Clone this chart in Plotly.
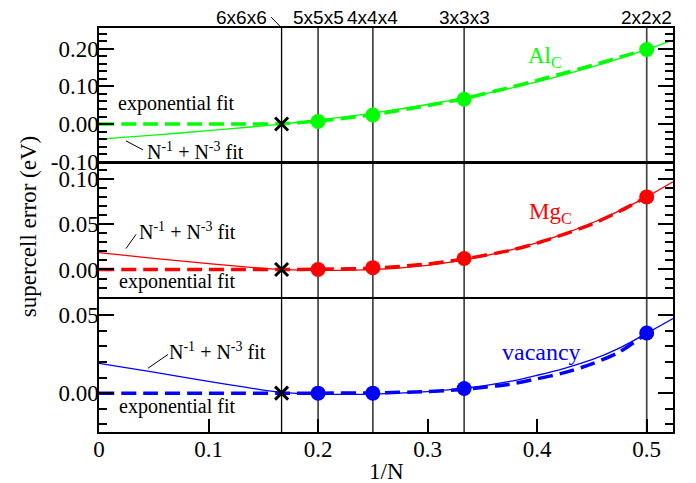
import plotly.graph_objects as go

# ---------------- data ----------------
x_pts = [0.2, 0.25, 1/3, 0.5]
al_pts = [0.007, 0.024, 0.066, 0.198]
mg_pts = [0.000, 0.002, 0.012, 0.080]
vac_pts = [0.000, 0.000, 0.003, 0.0387]
x_ref = [1/6]
y_ref = [0.0]

x_fit = [0, 0.05, 0.1, 0.1333, 0.1667, 0.2, 0.25, 0.3, 0.3333, 0.375, 0.4, 0.425, 0.45, 0.475, 0.5, 0.524]
al_fit = [-0.040, -0.0293, -0.0175, -0.0092, 0.000, 0.0106, 0.0292, 0.0519, 0.0695, 0.0949, 0.1122, 0.131, 0.1515, 0.1738, 0.198, 0.223]
mg_fit = [0.0186, 0.0122, 0.0065, 0.0028, 0.000, -0.0010, -0.0002, 0.0046, 0.0105, 0.0212, 0.0296, 0.0396, 0.0512, 0.0646, 0.080, 0.0966]
vac_fit = [0.0192, 0.0135, 0.0075, 0.0038, 0.0005, -0.0006, -0.0006, 0.0010, 0.0030, 0.0075, 0.0115, 0.0160, 0.0215, 0.0290, 0.0385, 0.048]

x_exp = [0, 0.05, 0.1, 0.1333, 0.1667, 0.2, 0.25, 0.3, 0.3333, 0.375, 0.4, 0.425, 0.45, 0.475, 0.5]
al_exp = [0, 0, 0, 0, 0.001, 0.008, 0.025, 0.049, 0.068, 0.097, 0.116, 0.136, 0.156, 0.177, 0.198]
mg_exp = [0, 0, 0, 0, 0, 0.0002, 0.0015, 0.006, 0.0115, 0.021, 0.029, 0.039, 0.050, 0.064, 0.080]
vac_exp = [0, 0, 0, 0, 0, 0, 0.0002, 0.001, 0.0025, 0.0058, 0.0092, 0.0132, 0.0188, 0.0265, 0.0385]

cell_x = [1/6, 0.2, 0.25, 1/3, 0.5]
cell_labels = ["6x6x6", "5x5x5", "4x4x4", "3x3x3", "2x2x2"]

y1_ticks = [-0.10, 0.00, 0.10, 0.20]
y1_text = ["-0.10", "0.00", "0.10", "0.20"]
y2_ticks = [0.00, 0.05, 0.10]
y2_text = ["0.00", "0.05", "0.10"]
y3_ticks = [0.00, 0.05]
y3_text = ["0.00", "0.05"]

GREEN, RED, BLUE = "#00ff00", "#ff0000", "#0000ff"
SERIF = "Liberation Serif"
SANS = "Liberation Sans"

fig = go.Figure()

panels = [
    ("x", "y", al_fit, al_exp, al_pts, GREEN),
    ("x2", "y2", mg_fit, mg_exp, mg_pts, RED),
    ("x3", "y3", vac_fit, vac_exp, vac_pts, BLUE),
]
for xa, ya, fit, ex, pts, col in panels:
    fig.add_trace(go.Scatter(x=x_fit, y=fit, mode="lines", xaxis=xa, yaxis=ya,
                             line=dict(color=col, width=1.3, shape="spline", smoothing=0.8),
                             showlegend=False, hoverinfo="skip"))
    fig.add_trace(go.Scatter(x=x_exp, y=ex, mode="lines", xaxis=xa, yaxis=ya,
                             line=dict(color=col, width=3.5, dash="15px,7px", shape="spline", smoothing=0.8),
                             showlegend=False, hoverinfo="skip"))
    fig.add_trace(go.Scatter(x=x_pts, y=pts, mode="markers", xaxis=xa, yaxis=ya,
                             marker=dict(color=col, size=15, symbol="circle"),
                             showlegend=False))
    fig.add_trace(go.Scatter(x=x_ref, y=y_ref, mode="markers", xaxis=xa, yaxis=ya,
                             marker=dict(symbol="x-thin", size=13, color="black",
                                         line=dict(color="black", width=3)),
                             showlegend=False))

axcommon = dict(showline=True, linecolor="black", linewidth=1.5, mirror=True,
                showgrid=False, zeroline=False)
xcommon = dict(range=[0, 0.524], **axcommon)
ycommon = dict(ticks="inside", ticklen=15, tickwidth=1.5, tickcolor="black",
               tickfont=dict(family=SERIF, size=23, color="black"), ticklabelstandoff=-6,
               showline=True, linecolor="black", linewidth=1.5, mirror="ticks",
               showgrid=False, zeroline=False)

def minor(dt):
    return dict(ticks="inside", ticklen=8, tickwidth=1.5, tickcolor="black", dtick=dt, tick0=0)

# the page body adds an 8px offset; the figure size/margins compensate for it
fig.update_layout(
    width=688, height=475,
    margin=dict(l=91, r=23, t=20, b=51),
    paper_bgcolor="white", plot_bgcolor="white",
    xaxis=dict(anchor="y", matches="x3", showticklabels=False, ticks="", **xcommon),
    xaxis2=dict(anchor="y2", matches="x3", showticklabels=False, ticks="", **xcommon),
    xaxis3=dict(anchor="y3", ticks="inside", ticklen=13, tickwidth=1.5, tickcolor="black",
                tick0=0, dtick=0.1, ticklabelstandoff=-4,
                tickfont=dict(family=SERIF, size=23, color="black"), **xcommon),
    yaxis=dict(domain=[0.669, 1.0], range=[-0.10, 0.255], tickvals=y1_ticks, ticktext=y1_text,
               minor=minor(0.02), **ycommon),
    yaxis2=dict(domain=[0.335, 0.665], range=[-0.03, 0.117], tickvals=y2_ticks, ticktext=y2_text,
                minor=minor(0.01), **ycommon),
    yaxis3=dict(domain=[0.0, 0.329], range=[-0.025, 0.0605], tickvals=y3_ticks, ticktext=y3_text,
                minor=minor(0.01), **ycommon),
)

shapes = []
for i, cx in enumerate(cell_x):
    shapes.append(dict(type="line", xref="x3", yref="paper", x0=cx, x1=cx, y0=0, y1=1,
                       line=dict(color="black" if i == 0 else "#444444", width=1.3 if i == 0 else 1.7),
                       layer="below"))
# leader for 6x6x6 label
shapes.append(dict(type="line", xref="paper", yref="paper", x0=0.2997, y0=1.027, x1=0.3183, y1=1.0,
                   line=dict(color="black", width=1)))
# leaders for N^-1 + N^-3 fit labels
shapes.append(dict(type="line", xref="x", yref="y", x0=0.0246, y0=-0.0445, x1=0.0401, y1=-0.0685,
                   line=dict(color="black", width=1)))
shapes.append(dict(type="line", xref="x2", yref="y2", x0=0.0246, y0=0.023, x1=0.0338, y1=0.0386,
                   line=dict(color="black", width=1)))
shapes.append(dict(type="line", xref="x3", yref="y3", x0=0.0447, y0=0.0160, x1=0.063, y1=0.0249,
                   line=dict(color="black", width=1)))
fig.update_layout(shapes=shapes)

ann = []
for i, (cx, lab) in enumerate(zip(cell_x, cell_labels)):
    if i == 0:
        ann.append(dict(text=lab, xref="paper", yref="paper", x=0.249, y=1.025, showarrow=False,
                        font=dict(family=SANS, size=19, color="black"), xanchor="center", yanchor="middle"))
    else:
        ann.append(dict(text=lab, xref="x3", yref="paper", x=cx, y=1.025, showarrow=False,
                        font=dict(family=SANS, size=19, color="black"), xanchor="center", yanchor="middle"))

fitlab = "N<sup>-1</sup> + N<sup>-3</sup> fit"
tf = dict(family=SERIF, size=20, color="black")
ann += [
    dict(text="exponential fit", xref="x", yref="y", x=0.0703, y=0.054, showarrow=False, font=tf),
    dict(text=fitlab, xref="x", yref="y", x=0.0885, y=-0.072, showarrow=False, font=tf),
    dict(text="Al<sub>C</sub>", xref="x", yref="y", x=0.407, y=0.177, showarrow=False,
         font=dict(family=SERIF, size=23, color=GREEN)),
    dict(text=fitlab, xref="x2", yref="y2", x=0.0807, y=0.042, showarrow=False, font=tf),
    dict(text="exponential fit", xref="x2", yref="y2", x=0.0716, y=-0.0137, showarrow=False, font=tf),
    dict(text="Mg<sub>C</sub>", xref="x2", yref="y2", x=0.412, y=0.062, showarrow=False,
         font=dict(family=SERIF, size=23, color=RED)),
    dict(text=fitlab, xref="x3", yref="y3", x=0.108, y=0.027, showarrow=False, font=tf),
    dict(text="exponential fit", xref="x3", yref="y3", x=0.0716, y=-0.0083, showarrow=False, font=tf),
    dict(text="vacancy", xref="x3", yref="y3", x=0.404, y=0.0262, showarrow=False,
         font=dict(family=SERIF, size=24, color=BLUE)),
    dict(text="supercell error (eV)", xref="paper", yref="paper", x=-0.123, y=0.508, textangle=-90,
         showarrow=False, font=dict(family=SERIF, size=23, color="black"), xanchor="center", yanchor="middle"),
    dict(text="1/N", xref="paper", yref="paper", x=0.5, y=-0.098, showarrow=False,
         font=dict(family=SERIF, size=23, color="black"), xanchor="center", yanchor="middle"),
]
fig.update_layout(annotations=ann)

fig.write_html("out.html")
